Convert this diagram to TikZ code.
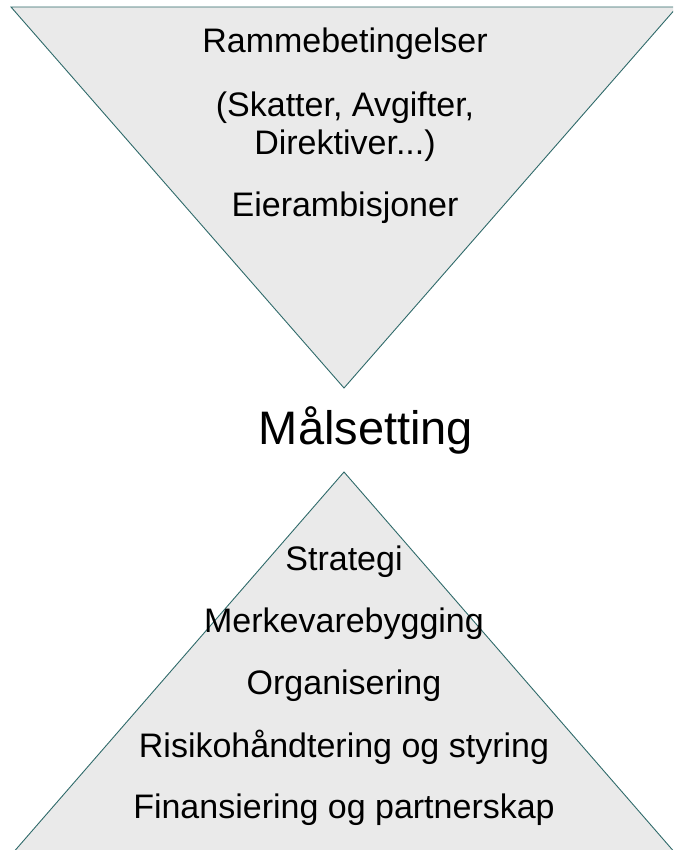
\documentclass[tikz,border=0pt]{standalone}
\usepackage{fontspec}
\setmainfont{Liberation Sans}
\definecolor{tri}{HTML}{EAEAEA}
\definecolor{edge}{HTML}{2F6A6A}
\begin{document}
\begin{tikzpicture}[x=1pt,y=-1pt,
  tri/.style={fill=tri,draw=edge,line width=0.9pt,line join=miter},
  lbl/.style={anchor=base,inner sep=0pt,font=\fontsize{34}{38}\selectfont},
  big/.style={anchor=base,inner sep=0pt,font=\fontsize{47}{52}\selectfont}]
\useasboundingbox (0,0) rectangle (673,850);
\clip (0,0) rectangle (673,850);
\draw[tri] (11,7) -- (677,7) -- (344,388) -- cycle;
\draw[tri] (344,472) -- (683,862) -- (5,862) -- cycle;
\node[lbl] (r1) at (345,53) {Rammebetingelser};
\node[lbl] (r2) at (345,117) {(Skatter, Avgifter,};
\node[lbl] (r3) at (345,155) {Direktiver...)};
\node[lbl] (r4) at (345,216) {Eierambisjoner};
\node[big] (m) at (366,444) {Målsetting};
\node[lbl] (b1) at (344,570) {Strategi};
\node[lbl] (b2) at (344,632) {Merkevarebygging};
\node[lbl] (b3) at (344,694) {Organisering};
\node[lbl] (b4) at (344,757) {Risikohåndtering og styring};
\node[lbl] (b5) at (344,818) {Finansiering og partnerskap};
\end{tikzpicture}
\end{document}
